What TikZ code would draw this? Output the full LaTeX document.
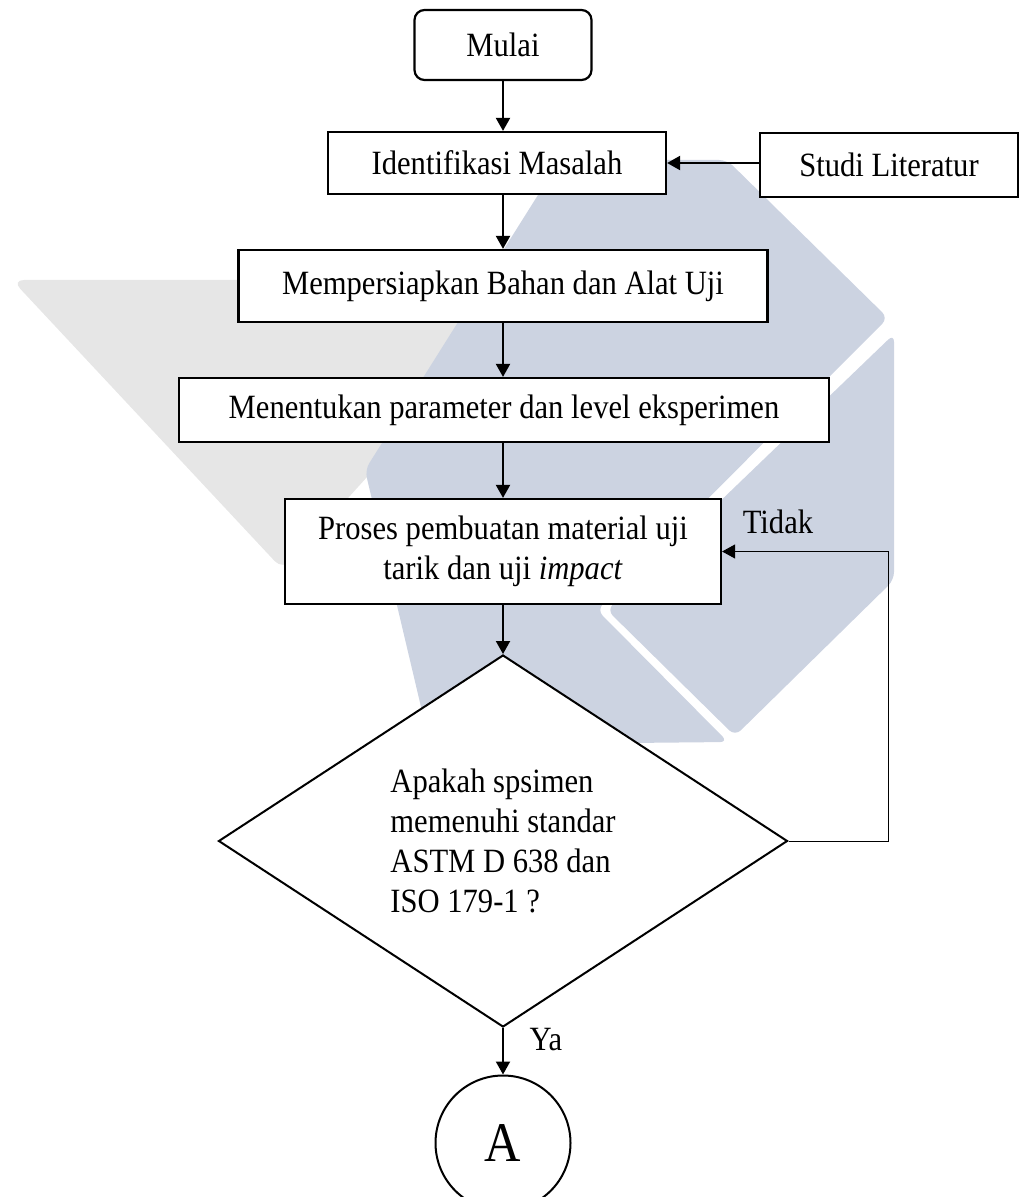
\documentclass[tikz,border=0pt]{standalone}
\usepackage{fontspec}
\setmainfont{Liberation Serif}[FakeStretch=0.9]
\usetikzlibrary{shapes.geometric,arrows.meta}
\definecolor{wmgray}{RGB}{230,230,230}
\definecolor{wmblue}{RGB}{204,211,225}
\begin{document}
\begin{tikzpicture}[x=0.5pt,y=-0.5pt,
    box/.style={draw,fill=white,line width=1.1pt,inner sep=0pt,align=center,font=\fontsize{17}{20}\selectfont},
    startbox/.style={box,rounded corners=5pt},
    decision/.style={diamond,draw,fill=white,line width=1pt,inner sep=0pt,align=left,font=\fontsize{17}{20}\selectfont},
    connector/.style={circle,draw,fill=white,line width=1pt,inner sep=0pt,minimum size=67.5pt,font=\fontsize{28}{30}\selectfont},
    lbl/.style={font=\fontsize{17}{20}\selectfont},
    arr/.style={-{Triangle[width=7pt,length=6.5pt]},line width=1pt}]
    \useasboundingbox (0,0) rectangle (1021,1197);

    % watermark
    \fill[wmgray,rounded corners=6pt] (12,280) -- (545,280) -- (283,570) -- cycle;
    \fill[wmblue,rounded corners=4pt] (560,160) -- (727,160) -- (888,318) -- (597,610) -- (728,742) -- (430,745) -- (365,470) -- cycle;
    \fill[wmblue,rounded corners=4pt] (894,334) -- (894,580) -- (735,736) -- (607,610) -- cycle;

    \node[startbox,minimum width=88.5pt,minimum height=35pt] (mulai) at (503,45) {Mulai};
    \node[box,minimum width=169pt,minimum height=31pt] (identifikasi) at (497,163) {Identifikasi Masalah};
    \node[box,minimum width=129pt,minimum height=32pt] (studi) at (889,165) {Studi Literatur};
    \node[box,minimum width=264.5pt,minimum height=36pt] (persiapan) at (503,286) {Mempersiapkan Bahan dan Alat Uji};
    \node[box,minimum width=325pt,minimum height=32pt] (parameter) at (504,410) {Menentukan parameter dan level eksperimen};
    \node[box,minimum width=218pt,minimum height=52.5pt] (proses) at (503,551.5) {Proses pembuatan material uji\\tarik dan uji \textit{impact}};
    \node[decision,minimum width=284.5pt,minimum height=186pt] (cek) at (503,841) {Apakah spsimen\\memenuhi standar\\ASTM D 638 dan\\ISO 179-1 ?};
    \node[connector] (konektor) at (503,1143) {A};
    \node[lbl] (tidak) at (778,522) {Tidak};
    \node[lbl] (ya) at (546,1040) {Ya};

    \draw[arr] (mulai.south) -- (mulai.south |- identifikasi.north);
    \draw[arr] (studi.west |- identifikasi.east) -- (identifikasi.east);
    \draw[arr] (identifikasi.south -| persiapan.north) -- (persiapan.north);
    \draw[arr] (persiapan.south) -- (persiapan.south |- parameter.north);
    \draw[arr] (parameter.south -| proses.north) -- (proses.north);
    \draw[arr] (proses.south) -- (proses.south |- cek.north);
    \draw[arr,line width=0.5pt] (cek.east) -- ++(100,0) |- (proses.east);
    \draw[arr] (cek.south) -- (konektor.north);
\end{tikzpicture}
\end{document}
